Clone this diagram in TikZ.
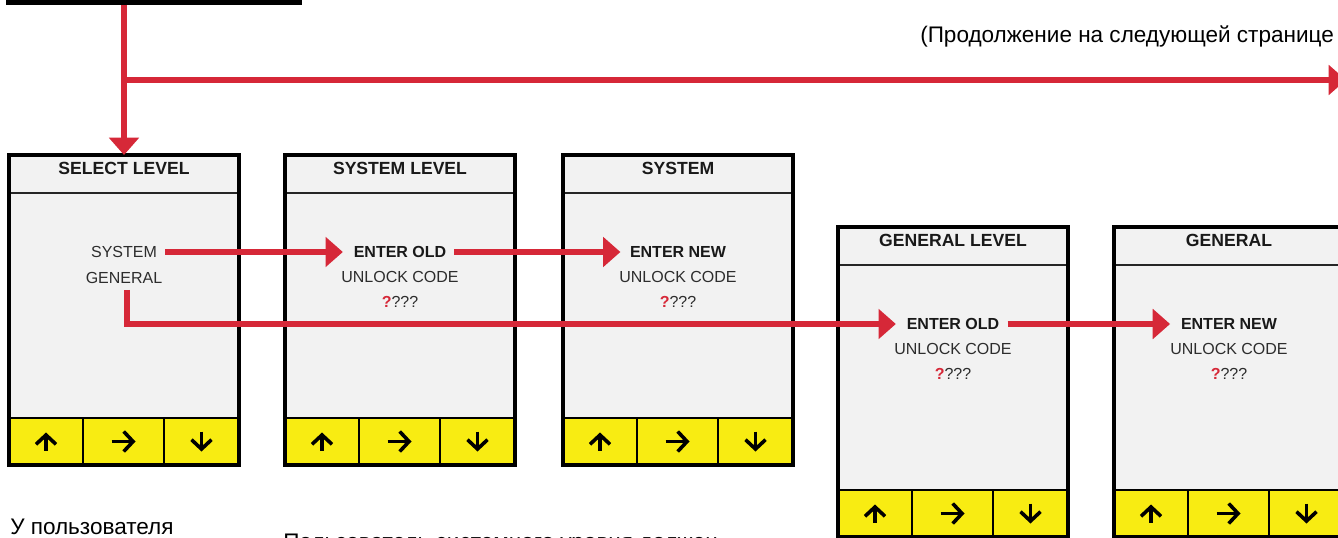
\documentclass[tikz,border=0pt]{standalone}
\usepackage{fontspec}
\setmainfont{Liberation Sans}
\usetikzlibrary{arrows.meta,calc}
\definecolor{redc}{RGB}{214,40,56}
\definecolor{yel}{RGB}{248,236,18}
\definecolor{scr}{RGB}{242,242,242}
\definecolor{txt}{RGB}{45,45,45}
\definecolor{hdrc}{RGB}{25,25,25}
\tikzset{
  redarrow/.style={draw=redc, line width=3.9pt, -{Triangle[length=13pt,width=22pt]}},
  frame/.style={fill=scr, minimum width=172.5pt, minimum height=232.5pt, inner sep=0pt, outer sep=0pt, anchor=north west},
  btn/.style={draw=black, line width=1.4pt, fill=yel, minimum height=35.25pt, inner sep=0pt, outer sep=0pt, anchor=south west},
  border/.style={draw=black, line width=3pt},
  thinrule/.style={draw=black!85, line width=1.5pt},
  hdr/.style={font=\fontsize{13.2pt}{15pt}\selectfont\bfseries, text=hdrc, inner sep=0pt},
  bodyt/.style={font=\fontsize{12pt}{14pt}\selectfont, text=txt, inner sep=0pt},
  bodyb/.style={font=\fontsize{12pt}{14pt}\selectfont\bfseries, text=hdrc, inner sep=0pt},
  glyph/.style={draw=black, line width=2.7pt, -{Straight Barb[length=7pt,width=15pt]}},
  note/.style={font=\fontsize{16.9pt}{20pt}\selectfont, text=black, inner sep=0pt, anchor=base west},
}
\newcommand\mypanel[4]{%
  \node[frame] (#1) at (#2,#3) {};
  \node[btn, minimum width=55.5pt] (#1-b1) at (#1.south west) {};
  \node[btn, minimum width=60.75pt] (#1-b2) at (#1-b1.south east) {};
  \node[btn, minimum width=56.25pt] (#1-b3) at (#1-b2.south east) {};
  \draw[thinrule] ($(#1.north west)+(0,38)$) -- ($(#1.north east)+(0,38)$);
  \draw[border] (#1.north west) rectangle (#1.south east);
  \node[hdr] (#1-h) at ($(#1.north)+(0,13)$) {#4};
  \draw[glyph] ($(#1-b1.center)+(0,9)$) -- ($(#1-b1.center)+(0,-9)$);
  \draw[glyph] ($(#1-b2.center)+(-12,0)$) -- ($(#1-b2.center)+(12,0)$);
  \draw[glyph] ($(#1-b3.center)+(0,-10)$) -- ($(#1-b3.center)+(0,10)$);
}
\newcommand\qmarks{{\color{redc}\bfseries ?}???}
\begin{document}
\begin{tikzpicture}[x=0.75pt,y=-0.75pt]
\useasboundingbox (0,0) rectangle (1338,538);
\clip (0,0) rectangle (1338,538);
\fill[white] (0,0) rectangle (1338,538);

% black bar at the top
\node[fill=black, minimum width=222pt, minimum height=15pt, inner sep=0pt, outer sep=0pt, anchor=south west] (bar) at (6,5) {};

% continuation note
\node[note] (cont-t) at (920,43) {(Продолжение на следующей странице};

% panels
\mypanel{p1}{9}{155}{SELECT LEVEL}
\mypanel{p2}{285}{155}{SYSTEM LEVEL}
\mypanel{p3}{563}{155}{SYSTEM}
\mypanel{p4}{838}{227}{GENERAL LEVEL}
\mypanel{p5}{1114}{227}{GENERAL}

% panel contents
\node[bodyt] (p1-l1) at ($(p1.north)+(0,97)$) {SYSTEM};
\node[bodyt] (p1-l2) at ($(p1.north)+(0,123)$) {GENERAL};

\node[bodyb] (p2-l1) at ($(p2.north)+(0,97)$) {ENTER OLD};
\node[bodyt] (p2-l2) at ($(p2.north)+(0,122)$) {UNLOCK CODE};
\node[bodyt] (p2-l3) at ($(p2.north)+(0,147)$) {\qmarks};

\node[bodyb] (p3-l1) at ($(p3.north)+(0,97)$) {ENTER NEW};
\node[bodyt] (p3-l2) at ($(p3.north)+(0,122)$) {UNLOCK CODE};
\node[bodyt] (p3-l3) at ($(p3.north)+(0,147)$) {\qmarks};

\node[bodyb] (p4-l1) at ($(p4.north)+(0,97)$) {ENTER OLD};
\node[bodyt] (p4-l2) at ($(p4.north)+(0,122)$) {UNLOCK CODE};
\node[bodyt] (p4-l3) at ($(p4.north)+(0,147)$) {\qmarks};

\node[bodyb] (p5-l1) at ($(p5.north)+(0,97)$) {ENTER NEW};
\node[bodyt] (p5-l2) at ($(p5.north)+(0,122)$) {UNLOCK CODE};
\node[bodyt] (p5-l3) at ($(p5.north)+(0,147)$) {\qmarks};

% notes at the bottom (cut by the frame, as in the reference)
\node[note] (n1) at (10,534) {У пользователя};
\node[note] (n2) at (283,549) {Пользователь системного уровня должен};

% connectors
\coordinate (jn) at (124,80);
\coordinate (cont) at (1346,80);
\draw[redarrow] (bar.south -| p1.north) -- (p1.north);
\draw[redarrow] (jn) -- (cont);
\draw[redarrow, shorten <=6pt, shorten >=8pt] (p1-l1.east) -- (p2-l1.west);
\draw[redarrow, shorten <=6pt, shorten >=7pt] (p2-l1.east) -- (p3-l1.west);
\draw[redarrow, shorten <=4.5pt, shorten >=8pt] ([xshift=2.25pt]p1-l2.south) |- (p4-l1.west);
\draw[redarrow, shorten <=6pt, shorten >=8pt] (p4-l1.east) -- (p5-l1.west);
\end{tikzpicture}
\end{document}
